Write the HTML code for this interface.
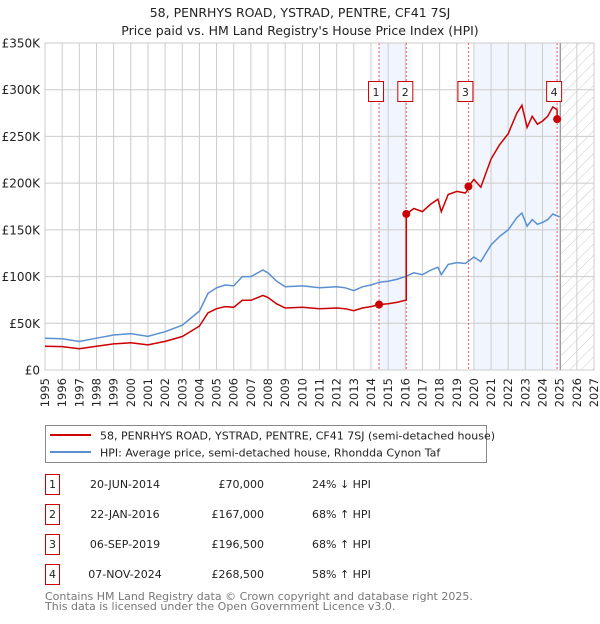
<!DOCTYPE html>
<html><head><meta charset="utf-8">
<style>
body{margin:0;background:#fff;font-family:"DejaVu Sans","Liberation Sans",sans-serif;}
svg text{font-family:"DejaVu Sans","Liberation Sans",sans-serif;}
</style></head>
<body>
<svg id="chart" width="600" height="620" xmlns="http://www.w3.org/2000/svg">
<defs>
<pattern id="hatch" width="8" height="8" patternUnits="userSpaceOnUse" patternTransform="rotate(45)">
<line x1="0" y1="0" x2="0" y2="8" stroke="#ccc" stroke-width="1"/>
</pattern>
</defs>
<text x="300" y="17" text-anchor="middle" font-size="12.5" fill="#222">58, PENRHYS ROAD, YSTRAD, PENTRE, CF41 7SJ</text>
<text x="300" y="35" text-anchor="middle" font-size="12.5" fill="#222">Price paid vs. HM Land Registry's House Price Index (HPI)</text>
<g id="plot"></g>
<g id="legend">
<rect x="45.5" y="425.5" width="441" height="37" fill="#fff" stroke="#888"/>
<line x1="50" y1="435" x2="91" y2="435" stroke="#cc0000" stroke-width="2"/>
<text x="100" y="439.5" font-size="11" fill="#222">58, PENRHYS ROAD, YSTRAD, PENTRE, CF41 7SJ (semi-detached house)</text>
<line x1="50" y1="452" x2="91" y2="452" stroke="#5b8fd0" stroke-width="2"/>
<text x="100" y="456.5" font-size="11" fill="#222">HPI: Average price, semi-detached house, Rhondda Cynon Taf</text>
</g>
<g id="table"></g>
<text x="45" y="600" font-size="11" fill="#777">Contains HM Land Registry data © Crown copyright and database right 2025.</text>
<text x="45" y="610" font-size="11" fill="#777">This data is licensed under the Open Government Licence v3.0.</text>
</svg>
<script>
const hpiYears=[1995,1996,1997,1998,1999,2000,2001,2002,2003,2004,2004.5,2005,2005.5,2006,2006.5,2007,2007.7,2008,2008.5,2009,2010,2010.5,2011,2012,2012.5,2013,2013.5,2014,2014.5,2015,2015.5,2016,2016.5,2017,2017.5,2017.9,2018.1,2018.5,2019,2019.5,2020,2020.4,2020.7,2021,2021.5,2022,2022.5,2022.8,2023.1,2023.4,2023.7,2024,2024.3,2024.6,2025];
const hpiValues=[34000,33500,30500,34000,37500,39000,36000,41000,48000,63000,82000,88000,91000,90000,100000,100000,107000,104000,95000,89000,90000,89000,88000,89000,88000,85000,89000,91000,94000,95000,97000,100000,104000,102000,107000,110000,102000,113000,115000,114000,121000,116000,125000,134000,143000,150000,163000,168000,154000,161000,156000,158000,161000,167000,164000];
const saleDates=[2014.47,2016.06,2019.68,2024.85];
const salePrices=[70000,167000,196500,268500];
const saleLabels=["1","2","3","4"];
const saleDateText=["20-JUN-2014","22-JAN-2016","06-SEP-2019","07-NOV-2024"];
const salePriceText=["£70,000","£167,000","£196,500","£268,500"];
const saleHpiText=["24% ↓ HPI","68% ↑ HPI","68% ↑ HPI","58% ↑ HPI"];
const yTicks=[0,50000,100000,150000,200000,250000,300000,350000];
const yTickLabels=["£0","£50K","£100K","£150K","£200K","£250K","£300K","£350K"];
const xTicks=[1995,1996,1997,1998,1999,2000,2001,2002,2003,2004,2005,2006,2007,2008,2009,2010,2011,2012,2013,2014,2015,2016,2017,2018,2019,2020,2021,2022,2023,2024,2025,2026,2027];

const X0=45,X1=594,Y0=370,Y1=43;
const sx=y=>X0+(y-1995)/(2027-1995)*(X1-X0);
const sy=v=>Y0-v/350000*(Y0-Y1);
const NS="http://www.w3.org/2000/svg";
function mk(tag,attrs,parent){const e=document.createElementNS(NS,tag);for(const k in attrs)e.setAttribute(k,attrs[k]);parent.appendChild(e);return e;}
function hpiAt(t){if(t<=hpiYears[0])return hpiValues[0];for(let i=1;i<hpiYears.length;i++){if(t<=hpiYears[i]){const f=(t-hpiYears[i-1])/(hpiYears[i]-hpiYears[i-1]);return hpiValues[i-1]+f*(hpiValues[i]-hpiValues[i-1]);}}return hpiValues[hpiValues.length-1];}

const plot=document.getElementById('plot');
let r=mk('rect',{x:sx(saleDates[0]),y:Y1,width:sx(saleDates[1])-sx(saleDates[0]),height:Y0-Y1,fill:'#eef3fc',opacity:0.8},plot);


r=mk('rect',{x:sx(2020),y:Y1,width:sx(saleDates[3])-sx(2020),height:Y0-Y1,fill:'#eef3fc',opacity:0.8},plot);


r=mk('rect',{x:sx(2025.1),y:Y1,width:X1-sx(2025.1),height:Y0-Y1,fill:'url(#hatch)'},plot);


xTicks.forEach((t,i)=>{
 const l=mk('line',{x1:sx(t),x2:sx(t),y1:Y1,y2:Y0,stroke:'#ccc','stroke-width':1},plot);
 
 
 const tx=mk('text',{x:0,y:0,'font-size':11.5,fill:'#222','text-anchor':'end',transform:`translate(${sx(t)+4},${Y0+8}) rotate(-90)`},plot);
 tx.textContent=t;
 
 
});
yTicks.forEach((v,i)=>{
 const l=mk('line',{x1:X0,x2:X1,y1:sy(v),y2:sy(v),stroke:'#ccc','stroke-width':1},plot);
 
 
 const tx=mk('text',{x:40,y:sy(v)+4.5,'font-size':12,fill:'#222','text-anchor':'end'},plot);
 tx.textContent=yTickLabels[i];
 
 
});
let b=mk('rect',{x:X0,y:Y1,width:X1-X0,height:Y0-Y1,fill:'none',stroke:'#ccc'},plot);


let nl=mk('line',{x1:sx(2025.05),x2:sx(2025.05),y1:Y1,y2:Y0,stroke:'#999','stroke-width':1},plot);


saleDates.forEach((d,i)=>{
 const l=mk('line',{x1:sx(d),x2:sx(d),y1:Y1,y2:Y0,stroke:'#f06060','stroke-width':1,'stroke-dasharray':'2,2'},plot);
 
 
});
const hp=hpiYears.map((y,i)=>`${i?'L':'M'}${sx(y).toFixed(1)},${sy(hpiValues[i]).toFixed(1)}`).join('');
const hl=mk('path',{d:hp,fill:'none',stroke:'#5b8fd0','stroke-width':1.5},plot);


const ratios=saleDates.map((d,i)=>salePrices[i]/hpiAt(d));
const pts=[];
function ratioAt(t){let k=0;for(let i=0;i<saleDates.length;i++)if(t>=saleDates[i])k=i;return ratios[k];}
const ts=[...hpiYears,...saleDates].sort((a,b)=>a-b);
ts.forEach(t=>{
 const idx=saleDates.indexOf(t);
 if(idx>0){pts.push([t,hpiAt(t)*ratios[idx-1]]);}
 pts.push([t,hpiAt(t)*ratioAt(t)]);
});
const rp=pts.map((p,i)=>`${i?'L':'M'}${sx(p[0]).toFixed(1)},${sy(p[1]).toFixed(1)}`).join('');
const rl=mk('path',{d:rp,fill:'none',stroke:'#cc0000','stroke-width':1.5},plot);


saleDates.forEach((d,i)=>{
 const c=mk('circle',{cx:sx(d),cy:sy(salePrices[i]),r:4,fill:'#cc0000'},plot);
 
 
 const g=mk('g',{},plot);
 
 
 const x=sx(d)-(i===1?1:3);
 mk('rect',{x:x-7.5,y:81.5,width:15,height:20,fill:'#fff',stroke:'#cc0000','stroke-width':1},g);
 const tt=mk('text',{x:x,y:96,'font-size':11,'text-anchor':'middle',fill:'#222'},g);
 tt.textContent=saleLabels[i];
});
const tb=document.getElementById('table');
saleDates.forEach((d,i)=>{
 const cy=483+i*30;
 const g=mk('g',{},tb);
 
 
 mk('rect',{x:45.5,y:cy-8.5,width:14,height:20,fill:'#fff',stroke:'#cc0000'},g);
 let t=mk('text',{x:52.5,y:cy+5,'font-size':11,'text-anchor':'middle',fill:'#222'},g);t.textContent=saleLabels[i];
 t=mk('text',{x:125,y:cy+5,'font-size':11,'text-anchor':'middle',fill:'#222'},g);t.textContent=saleDateText[i];
 t=mk('text',{x:264,y:cy+5,'font-size':11,'text-anchor':'end',fill:'#222'},g);t.textContent=salePriceText[i];
 t=mk('text',{x:312,y:cy+5,'font-size':11,fill:'#222'},g);t.textContent=saleHpiText[i];
});
</script>
</body></html>
